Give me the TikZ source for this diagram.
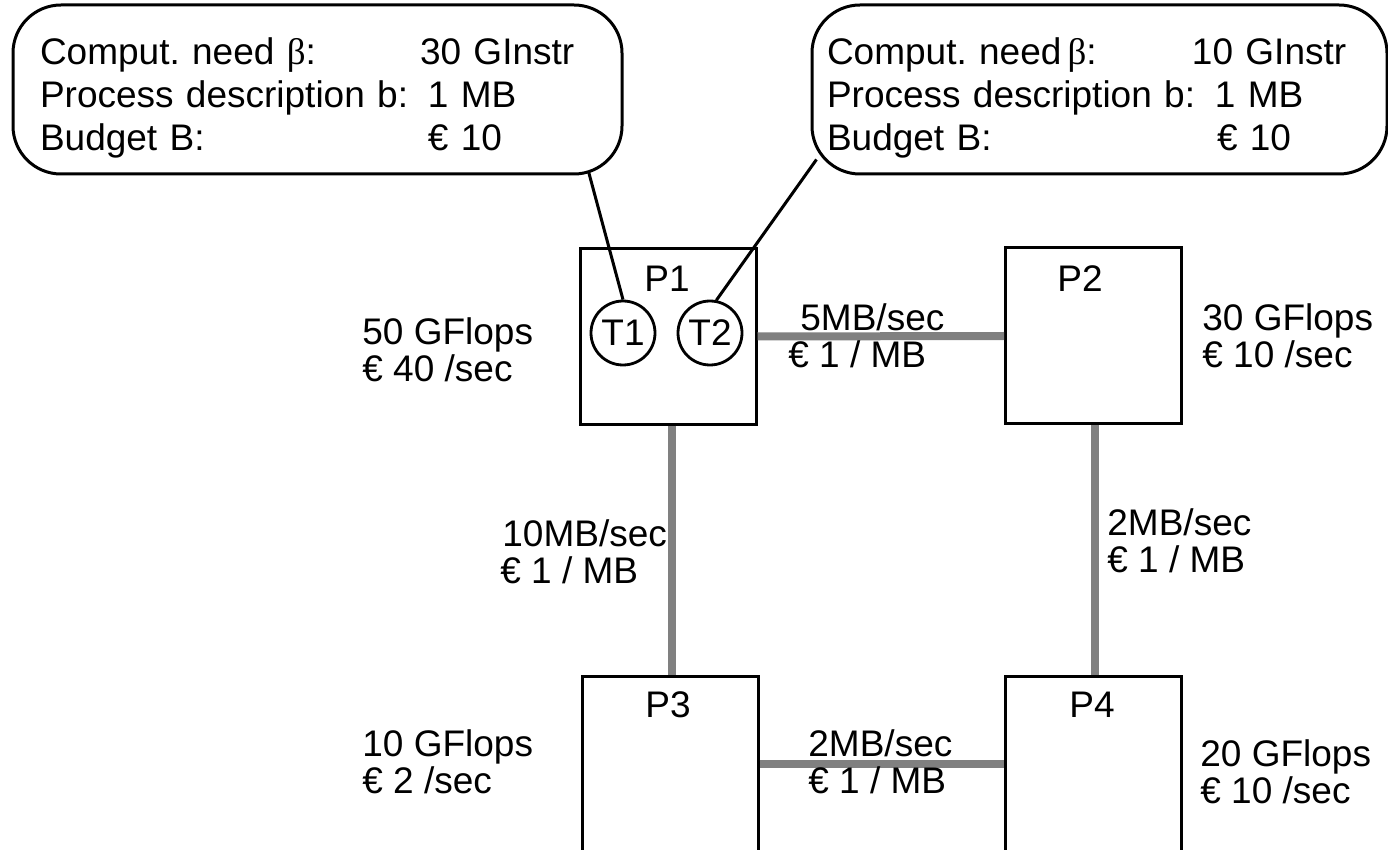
\documentclass[tikz,border=0pt]{standalone}
\usepackage{fontspec}
\setmainfont{Liberation Sans}
\newfontfamily\greekfont{Liberation Serif}
\usetikzlibrary{positioning}

\tikzset{
  proc/.style={draw, line width=1.5pt, minimum width=88pt, minimum height=88pt, inner sep=0pt},
  task/.style={draw, circle, line width=1.4pt, minimum size=32pt, inner sep=0pt,
    font=\fontsize{18.5pt}{20pt}\selectfont},
  callout/.style={draw, line width=1.5pt, rounded corners=24pt, minimum height=84.5pt,
    align=left, font=\fontsize{18.5pt}{21.5pt}\selectfont},
  link/.style={draw=black!50, line width=4pt},
  info/.style={anchor=base west, inner sep=0pt, align=left,
    font=\fontsize{18.5pt}{18.5pt}\selectfont},
  pname/.style={anchor=base, inner sep=0pt, font=\fontsize{18.5pt}{20pt}\selectfont}
}

\begin{document}
\begin{tikzpicture}[x=0.5pt, y=-0.5pt]
  \useasboundingbox (0,0) rectangle (1388,850);
  \clip (0,0) rectangle (1388,850);

  \node[proc] (P1) at (668,336.5) {};
  \node[proc] (P2) at (1093.5,336) {};
  \node[proc] (P3) at (670,764) {};
  \node[proc] (P4) at (1093.5,764) {};
  \node[pname] (p1name) at (667,292) {P1};
  \node[pname] (p2name) at (1080,292) {P2};
  \node[pname] (p3name) at (668,717) {P3};
  \node[pname] (p4name) at (1092,717) {P4};

  \node[task] (T1) at (623,333) {T1};
  \node[task] (T2) at (710,333) {T2};

  \node[callout, inner xsep=13.5pt, text width=277.5pt] (call1) at (317.5,89.5) {
    \rule{0pt}{21.5pt}\makebox[190pt][l]{Comput.\ need {\greekfont β}:}30 GInstr\\
    \makebox[194pt][l]{Process description b:}1 MB\\
    \makebox[194pt][l]{Budget B:}€ 10};
  \node[callout, inner xsep=7.5pt, text width=272.5pt] (call2) at (1099.5,89.5) {
    \rule{0pt}{21.5pt}\makebox[182.5pt][l]{Comput.\ need\,{\greekfont β}:}10 GInstr\\
    \makebox[194pt][l]{Process description b:}1 MB\\
    \makebox[195pt][l]{Budget B:}€ 10};
  \draw[line width=1.5pt] ([xshift=-17.5pt,yshift=2pt]call1.south east) -- (T1.north);
  \draw[line width=1.5pt] ([xshift=3pt,yshift=8pt]call2.south west) -- (T2.79);

  \draw[link] (P1.east) -- (P2.west);
  \draw[link] ([xshift=2pt]P1.south) -- ([xshift=2pt]P1.south |- P3.north);
  \draw[link] ([xshift=0.75pt]P2.south) -- ([xshift=0.75pt]P2.south |- P4.north);
  \draw[link] (P3.east) -- (P4.west);

  \node[info] (cpu1) at (362,382) {50 GFlops\\€ 40 /sec};
  \node[info] (cpu2) at (1202,368) {30 GFlops\\€ 10 /sec};
  \node[info] (cpu3) at (362,793) {10 GFlops\\€ 2 /sec};
  \node[info] (cpu4) at (1200,803) {20 GFlops\\€ 10 /sec};
  \node[info] (bw12) at (788,368) {\hspace*{6pt}5MB/sec\\€ 1 / MB};
  \node[info] (bw13) at (500,583) {\hspace*{1pt}10MB/sec\\€ 1 / MB};
  \node[info] (bw24) at (1107,572) {2MB/sec\\€ 1 / MB};
  \node[info] (bw34) at (808,793) {2MB/sec\\€ 1 / MB};
\end{tikzpicture}
\end{document}
